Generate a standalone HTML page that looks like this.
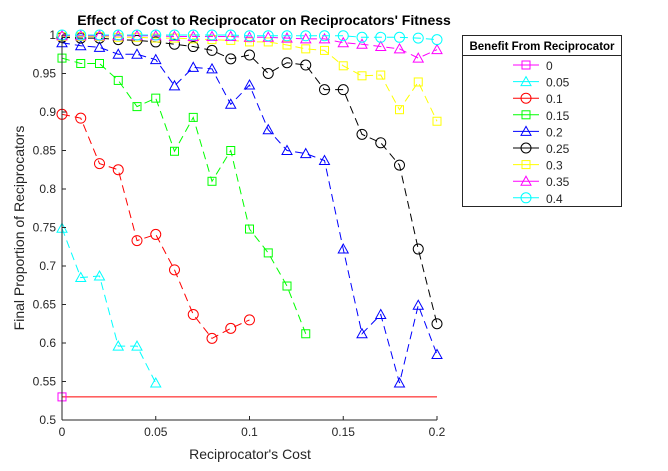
<!DOCTYPE html>
<html><head><meta charset="utf-8"><style>body{margin:0;background:#fff}svg{display:block;font-family:"Liberation Sans",sans-serif}</style></head>
<body>
<svg id="c" width="668" height="471"></svg>
<script>
const costs=[0,0.01,0.02,0.03,0.04,0.05,0.06,0.07,0.08,0.09,0.1,0.11,0.12,0.13,0.14,0.15,0.16,0.17,0.18,0.19,0.2];
const seriesNames=["0","0.05","0.1","0.15","0.2","0.25","0.3","0.35","0.4"];
const s0=[0.53];
const s005=[0.749,0.685,0.687,0.596,0.596,0.548];
const s01=[0.897,0.892,0.833,0.825,0.733,0.741,0.695,0.637,0.606,0.619,0.63];
const s015=[0.97,0.963,0.963,0.941,0.907,0.918,0.849,0.893,0.81,0.85,0.748,0.717,0.674,0.612];
const s02=[0.99,0.986,0.984,0.975,0.975,0.968,0.934,0.958,0.956,0.91,0.935,0.877,0.85,0.846,0.837,0.722,0.612,0.637,0.548,0.649,0.585];
const s025=[0.997,0.996,0.996,0.994,0.993,0.991,0.988,0.985,0.98,0.969,0.974,0.95,0.964,0.961,0.929,0.929,0.871,0.86,0.831,0.722,0.625];
const s03=[0.998,0.998,0.998,0.997,0.997,0.996,0.996,0.995,0.994,0.993,0.991,0.991,0.987,0.982,0.98,0.96,0.947,0.948,0.903,0.939,0.888];
const s035=[0.999,0.999,0.999,0.999,0.999,0.999,0.998,0.998,0.998,0.998,0.997,0.997,0.996,0.995,0.995,0.99,0.988,0.985,0.982,0.97,0.981];
const s04=[1,1,1,1,1,1,1,1,1,1,0.999,0.999,0.999,0.999,0.999,0.999,0.997,0.997,0.997,0.996,0.994];
const refLine=0.53;
const xTicks=[0,0.05,0.1,0.15,0.2];
const xTickLabels=["0","0.05","0.1","0.15","0.2"];
const yTicks=[0.5,0.55,0.6,0.65,0.7,0.75,0.8,0.85,0.9,0.95,1];
const yTickLabels=["0.5","0.55","0.6","0.65","0.7","0.75","0.8","0.85","0.9","0.95","1"];
const allSeries=[s0,s005,s01,s015,s02,s025,s03,s035,s04];
const colors=["#ff00ff","#00ffff","#ff0000","#00ff00","#0000ff","#000000","#ffff00","#ff00ff","#00ffff"];
const markers=["sq","tri","circ","sq","tri","circ","sq","tri","circ"];
const L=62,R=437,T=35,B=420;
const X=v=>L+(v-0)/0.2*(R-L);
const Y=v=>B-(v-0.5)/0.5*(B-T);
const svg=document.getElementById('c');
const NS="http://www.w3.org/2000/svg";
function mk(t,a,p){const e=document.createElementNS(NS,t);for(const k in a)e.setAttribute(k,a[k]);(p||svg).appendChild(e);return e;}
function marker(type,x,y,col,g){
 let e;
 if(type=="sq")e=mk('rect',{x:x-4,y:y-4,width:8,height:8,fill:'none',stroke:col},g);
 else if(type=="tri")e=mk('path',{d:`M${x} ${y-5}L${x+5} ${y+4}L${x-5} ${y+4}Z`,fill:'none',stroke:col},g);
 else e=mk('circle',{cx:x,cy:y,r:5,fill:'none',stroke:col},g);
 return e;
}
mk('rect',{x:L,y:T,width:R-L,height:B-T,fill:'#fff'});
const rl=mk('line',{x1:X(0),x2:X(0.2),y1:Y(refLine),y2:Y(refLine),stroke:'#ff0000'});


allSeries.forEach((s,i)=>{
 const g=mk('g',{});
 
 
 if(s.length>1){
  const pts=s.map((v,j)=>X(costs[j])+','+Y(v)).join(' ');
  mk('polyline',{points:pts,fill:'none',stroke:colors[i],'stroke-dasharray':'8,5'},g);
 }
 s.forEach((v,j)=>{
  const m=marker(markers[i],X(costs[j]),Y(v),colors[i],g);
  
  
 });
});
mk('line',{x1:L,x2:R,y1:B,y2:B,stroke:'#262626'});
mk('line',{x1:L,x2:L,y1:T,y2:B,stroke:'#262626'});
xTicks.forEach((v,i)=>{
 mk('line',{x1:X(v),x2:X(v),y1:B,y2:B-4,stroke:'#262626'});
 const t=mk('text',{x:X(v),y:B+16,'text-anchor':'middle','font-size':12,fill:'#262626'});
 t.textContent=xTickLabels[i];
 
 
});
yTicks.forEach((v,i)=>{
 mk('line',{x1:L,x2:L+4,y1:Y(v),y2:Y(v),stroke:'#262626'});
 const t=mk('text',{x:L-6,y:Y(v)+4,'text-anchor':'end','font-size':12,fill:'#262626'});
 t.textContent=yTickLabels[i];
 
 
});
let t=mk('text',{x:264,y:25,'text-anchor':'middle','font-size':14,'font-weight':'bold',fill:'#000'});
t.textContent="Effect of Cost to Reciprocator on Reciprocators' Fitness";


t=mk('text',{x:250,y:459,'text-anchor':'middle','font-size':14,fill:'#262626'});
t.textContent="Reciprocator's Cost";


t=mk('text',{x:0,y:0,'text-anchor':'middle','font-size':14,fill:'#262626',transform:'translate(24,228) rotate(-90)'});
t.textContent="Final Proportion of Reciprocators";


const lg=mk('g',{});


mk('rect',{x:462.5,y:35.5,width:159,height:171,fill:'#fff',stroke:'#262626'},lg);
mk('line',{x1:462.5,x2:621.5,y1:55.5,y2:55.5,stroke:'#262626'},lg);
t=mk('text',{x:542,y:50,'text-anchor':'middle','font-size':11.5,'font-weight':'bold',fill:'#000'},lg);
t.textContent="Benefit From Reciprocator";


seriesNames.forEach((n,i)=>{
 const y=65+i*16.6;
 const e=mk('g',{},lg);
 
 
 mk('line',{x1:513,x2:539,y1:y,y2:y,stroke:colors[i]},e);
 marker(markers[i],526,y,colors[i],e);
 const tx=mk('text',{x:546,y:y+5,'font-size':12,fill:'#262626'},e);
 tx.textContent=n;
});
</script>
</body></html>
